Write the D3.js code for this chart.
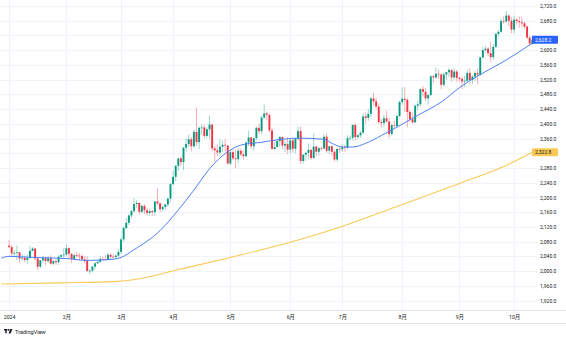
<!DOCTYPE html>
<html><head><meta charset="utf-8">
<script src="https://cdn.jsdelivr.net/npm/d3@7"></script>
<style>body{margin:0;background:#fff}svg{display:block}</style>
</head><body>
<svg id="c" width="566" height="339"></svg>
<script>
// ---- data (daily bars, 2 Jan 2024 .. 10 Oct 2024) ----
const opens = [
2069,2065,2048,2049,2051,2034,2036,2030,2035,2055,2061,2034,2012,2029,2035,2027,2035,2020,2027,2024,2039,2043,
2045,2062,2047,2033,2043,2042,2041,2032,2028,2000,2001,2012,2021,2025,2033,2032,2031,2044,2039,2038,2042,
2052,2086,2117,2131,2151,2163,2182,2185,2161,2177,2165,2158,2163,2160,2189,2184,2168,2174,2181,2197,
2236,2256,2286,2306,2296,2335,2345,2358,2339,2378,2350,2389,2390,2367,2385,2398,2333,2328,2322,2338,2343,2341,
2292,2323,2306,2304,2327,2317,2312,2349,2363,2339,2361,2389,2380,2417,2428,2424,2382,2332,2337,2353,2364,2341,2345,
2330,2355,2332,2360,2380,2299,2316,2321,2329,2307,2338,2324,2334,2333,2365,2327,2339,2324,2303,2332,
2331,2336,2335,2361,2362,2397,2364,2369,2376,2420,2416,2427,2469,2461,2447,2405,2402,2415,2406,2372,2396,2394,2421,
2459,2468,2465,2432,2412,2404,2449,2453,2494,2487,2469,2478,2529,2526,2536,2534,2506,2534,2540,2546,2526,2542,
2525,2522,2515,2517,2538,2519,2528,2538,2534,2580,2600,2604,2592,2581,2609,2644,2650,2679,2678,2694,2680,
2656,2683,2679,2676,2673,2664,2634,2618];
const highs = [
2085,2071,2056,2070,2052,2046,2042,2045,2068,2065,2063,2035,2030,2041,2039,2040,2043,2029,2031,2043,2046,2062,
2073,2065,2048,2047,2051,2049,2045,2040,2040,2005,2014,2024,2029,2040,2039,2043,2049,2048,2047,2045,2060,
2091,2122,2144,2155,2167,2198,2192,2187,2180,2181,2172,2168,2166,2190,2225,2186,2179,2182,2198,2239,
2272,2287,2307,2311,2337,2360,2371,2364,2384,2444,2393,2398,2398,2390,2423,2399,2340,2344,2358,2354,2358,2341,
2329,2329,2330,2334,2332,2327,2352,2381,2364,2361,2393,2400,2421,2453,2434,2428,2389,2350,2360,2367,2365,2354,2363,
2359,2357,2360,2393,2392,2318,2323,2347,2332,2373,2340,2336,2338,2372,2374,2340,2341,2328,2333,2340,
2345,2343,2369,2368,2397,2399,2373,2380,2429,2431,2440,2472,2484,2470,2455,2413,2425,2436,2415,2400,2408,2425,2463,
2499,2499,2470,2437,2430,2452,2462,2497,2502,2497,2482,2532,2533,2553,2547,2537,2539,2542,2552,2548,2551,2546,
2528,2528,2530,2545,2551,2532,2544,2551,2583,2608,2611,2608,2622,2617,2647,2654,2686,2692,2707,2697,2690,
2694,2688,2692,2690,2677,2668,2638,2636];
const lows = [
2063,2037,2038,2030,2022,2028,2024,2019,2034,2054,2029,2002,2009,2022,2016,2022,2017,2016,2017,2017,2034,2036,
2040,2033,2022,2030,2038,2030,2028,2021,1998,1992,1996,2004,2020,2022,2028,2028,2028,2033,2033,2032,2039,
2046,2079,2112,2125,2144,2158,2172,2153,2157,2155,2150,2150,2149,2149,2178,2160,2162,2167,2174,2188,
2234,2244,2272,2285,2275,2325,2336,2325,2334,2340,2331,2370,2360,2361,2358,2325,2297,2311,2314,2324,2325,2291,
2288,2301,2280,2294,2312,2301,2309,2339,2330,2327,2357,2371,2372,2413,2409,2376,2329,2328,2336,2338,2331,2323,2318,
2319,2321,2320,2354,2291,2292,2300,2303,2302,2304,2311,2313,2327,2331,2321,2319,2314,2298,2298,2321,
2324,2324,2331,2355,2355,2355,2358,2362,2372,2399,2408,2418,2450,2440,2400,2390,2392,2404,2361,2368,2386,2390,2418,
2452,2432,2390,2405,2400,2402,2437,2447,2474,2462,2452,2476,2512,2522,2522,2494,2501,2520,2527,2515,2520,2515,
2515,2494,2500,2512,2507,2508,2517,2507,2530,2578,2596,2584,2568,2574,2606,2637,2648,2671,2675,2665,2646,
2645,2670,2661,2663,2658,2630,2612,2614];
const closes = [
2065,2048,2049,2051,2034,2036,2030,2035,2055,2061,2034,2012,2029,2035,2027,2035,2020,2027,2024,2039,2043,2045,
2062,2047,2033,2043,2042,2041,2032,2028,2000,2001,2012,2021,2025,2033,2032,2031,2044,2039,2038,2042,2052,
2086,2117,2131,2151,2163,2182,2185,2161,2177,2165,2158,2163,2160,2189,2184,2168,2174,2181,2197,2236,
2256,2286,2306,2296,2335,2345,2358,2339,2378,2350,2389,2390,2367,2385,2398,2333,2328,2322,2338,2343,2341,2292,
2323,2306,2304,2327,2317,2312,2349,2363,2339,2361,2389,2380,2417,2428,2424,2382,2332,2337,2353,2364,2341,2345,2330,
2355,2332,2360,2380,2299,2316,2321,2329,2307,2338,2324,2334,2333,2365,2327,2339,2324,2303,2332,2331,
2336,2335,2361,2362,2397,2364,2369,2376,2420,2416,2427,2469,2461,2447,2405,2402,2415,2406,2372,2396,2394,2421,2459,
2468,2465,2432,2412,2404,2449,2453,2494,2487,2469,2478,2529,2526,2536,2534,2506,2534,2540,2546,2526,2542,2525,
2522,2515,2517,2538,2519,2528,2538,2534,2580,2600,2604,2592,2581,2609,2644,2650,2679,2678,2694,2680,2656,
2683,2679,2676,2673,2664,2634,2618,2628.2];

// moving averages read at sample bars
const ma50Idx = [-3,0,9,22,30,40,43,48,58,65,71,77,84,89,96,111,121,124,128,132,137,143,149,157,166,173,180,189,195,201];
const ma50    = [2035,2040,2037,2034,2029,2032,2037,2058,2110,2166,2220,2278,2324,2342,2349,2361,2358,2347,2337,2337,2347,2368,2391,2423,2459,2498,2530,2565,2591,2619];
const ma200Idx = [-3,20,42,50,64,85,108,129,150,173,190,201];
const ma200    = [1965,1968,1972,1979,2002,2037,2078,2124,2178,2238,2284,2322.8];

const monthTickIdx = [0,22,43,63,85,108,128,151,173,194];
const monthTickLabels = ["2024","2月","3月","4月","5月","6月","7月","8月","9月","10月"];
const gridTicks = [1920,1960,2000,2040,2080,2120,2160,2200,2240,2280,2320,2360,2400,2440,2480,2520,2560,2600,2640,2680,2720];
// labels hidden behind the two price boxes (2,320 and 2,640) are left out
const priceTicks = [1920,1960,2000,2040,2080,2120,2160,2200,2240,2280,2360,2400,2440,2480,2520,2560,2600,2680,2720];
const lastPrice = 2628.2;
const ma200Last = 2322.8;

// ---- drawing ----
const FONT = "Roboto, 'Noto Sans CJK JP', sans-serif";
const UP = "#089981", DOWN = "#f23645";
const plotRight = 537, plotBottom = 310;
const svg = d3.select("#c");
const x = d3.scaleLinear().domain([-3.5, 203]).range([0, 537.5]);
const y = d3.scaleLinear().domain([1920, 2720]).range([300.5, 6]);

svg.append("defs").append("clipPath").attr("id","clip")
  .append("rect").attr("x",0).attr("y",0).attr("width",plotRight).attr("height",plotBottom);

// grid
svg.append("g").selectAll("line").data(gridTicks).join("line")
  .attr("x1",0).attr("x2",plotRight)
  .attr("y1",d=>Math.round(y(d))+0.5).attr("y2",d=>Math.round(y(d))+0.5)
  .attr("stroke","#f0f3fa").attr("stroke-width",1);
svg.append("g").selectAll("line").data(monthTickIdx).join("line")
  .attr("x1",d=>Math.round(x(d))+0.5).attr("x2",d=>Math.round(x(d))+0.5)
  .attr("y1",0).attr("y2",plotBottom)
  .attr("stroke","#f0f3fa").attr("stroke-width",1);

// separators
svg.append("line").attr("x1",0).attr("x2",566).attr("y1",plotBottom+0.5).attr("y2",plotBottom+0.5)
  .attr("stroke","#e0e3eb");
svg.append("line").attr("x1",0).attr("x2",566).attr("y1",323.5).attr("y2",323.5)
  .attr("stroke","#e0e3eb");

const plot = svg.append("g").attr("clip-path","url(#clip)");
const bars = d3.range(closes.length);

// wicks
plot.append("g").selectAll("line").data(bars).join("line")
  .attr("x1",i=>x(i)).attr("x2",i=>x(i))
  .attr("y1",i=>y(highs[i])).attr("y2",i=>y(lows[i]))
  .attr("stroke",i=>closes[i]>=opens[i]?UP:DOWN)
  .attr("stroke-opacity",0.45).attr("stroke-width",0.9);
// bodies
plot.append("g").selectAll("rect").data(bars).join("rect")
  .attr("x",i=>x(i)-0.95).attr("width",1.9)
  .attr("y",i=>Math.min(y(opens[i]),y(closes[i])))
  .attr("height",i=>Math.max(0.7,Math.abs(y(opens[i])-y(closes[i]))))
  .attr("fill",i=>closes[i]>=opens[i]?UP:DOWN);

// moving averages
const line = d3.line().x(d=>x(d[0])).y(d=>y(d[1])).curve(d3.curveMonotoneX);
plot.append("path").datum(ma200Idx.map((d,i)=>[d,ma200[i]]))
  .attr("d",line).attr("fill","none").attr("stroke","#f8ca55").attr("stroke-width",1.1);
plot.append("path").datum(ma50Idx.map((d,i)=>[d,ma50[i]]))
  .attr("d",line).attr("fill","none").attr("stroke","#4f80f5").attr("stroke-width",1);

// right price axis
const yAxis = svg.append("g").attr("transform","translate(540,0)")
  .call(d3.axisRight(y).tickValues(priceTicks).tickFormat(d3.format(",.1f")).tickSize(0).tickPadding(0));
yAxis.select(".domain").remove();
yAxis.selectAll("text").attr("font-family",FONT).attr("font-size","5px").attr("fill","#131722");

// bottom time axis
const xAxis = svg.append("g").attr("transform","translate(0,313)")
  .call(d3.axisBottom(x).tickValues(monthTickIdx).tickFormat((d,i)=>monthTickLabels[i]).tickSize(0).tickPadding(2));
xAxis.select(".domain").remove();
xAxis.selectAll("text").attr("font-family",FONT).attr("font-size","5.2px").attr("fill","#131722");

// price labels
function priceLabel(v, bg, fg){
  const g = svg.append("g");
  g.append("rect").attr("x",532).attr("y",y(v)-4).attr("width",26).attr("height",8).attr("rx",1).attr("fill",bg);
  g.append("text").attr("x",535).attr("y",y(v)).attr("dy","0.35em")
    .attr("font-family",FONT).attr("font-size","5px").attr("fill",fg)
    .text(d3.format(",.1f")(v));
}
priceLabel(lastPrice, "#2962ff", "#ffffff");
priceLabel(ma200Last, "#f8ca55", "#131722");

// TradingView logo
const logo = svg.append("g").attr("fill","#131722");
logo.append("rect").attr("x",4).attr("y",329).attr("width",3.4).attr("height",1.4);
logo.append("rect").attr("x",5.3).attr("y",329).attr("width",1.4).attr("height",4.4);
logo.append("circle").attr("cx",8.6).attr("cy",329.9).attr("r",0.9);
logo.append("path").attr("d","M10.3,329 L12.4,329 L10.6,333.4 L8.6,333.4 Z");
svg.append("text").attr("x",15).attr("y",333.5).attr("font-family",FONT)
  .attr("font-size","5.6px").attr("fill","#131722").text("TradingView");
</script>
</body></html>
